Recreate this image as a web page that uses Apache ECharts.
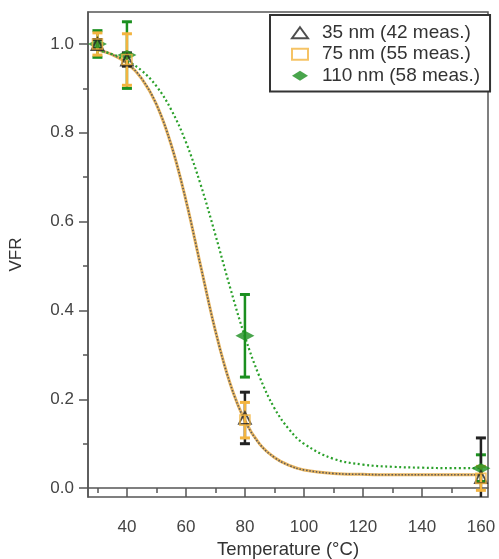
<!DOCTYPE html>
<html>
<head>
<meta charset="utf-8">
<script src="https://cdn.jsdelivr.net/npm/echarts@6/dist/echarts.min.js"></script>
<style>
  html, body { margin: 0; padding: 0; background: #fff; }
  #chart { width: 499px; height: 559px; }
</style>
</head>
<body>
<div id="chart"></div>
<script>
// Measured points: temperature (°C) and VFR with ± error
const temps = [30, 40, 80, 160];
const vfr35 = [1.0, 0.965, 0.158, 0.025];
const err35 = [0.01, 0.015, 0.058, 0.088];
const vfr75 = [1.0, 0.965, 0.153, 0.022];
const err75 = [0.025, 0.058, 0.04, 0.027];
const vfr110 = [1.0, 0.975, 0.343, 0.045];
const err110 = [0.03, 0.075, 0.093, 0.03];

// Fitted curves (sampled)
const fitTemps = [30, 35, 40, 45, 50, 55, 60, 65, 70, 75, 80, 85, 90, 95, 100, 110, 120, 130, 140, 150, 160];
const fitSmall = [0.987, 0.976, 0.957, 0.922, 0.864, 0.773, 0.648, 0.500, 0.354, 0.235, 0.152, 0.099, 0.069, 0.051, 0.041, 0.033, 0.031, 0.030, 0.030, 0.030, 0.030];
const fitLarge = [0.986, 0.977, 0.962, 0.940, 0.905, 0.852, 0.779, 0.683, 0.570, 0.451, 0.341, 0.250, 0.180, 0.132, 0.100, 0.066, 0.053, 0.048, 0.046, 0.045, 0.045];

// Tick positions
const xMajor = [40, 60, 80, 100, 120, 140, 160];
const xMinor = [30, 50, 70, 90, 110, 130, 150];
const yMajor = [0, 0.2, 0.4, 0.6, 0.8, 1.0];
const yMinor = [0.1, 0.3, 0.5, 0.7, 0.9];

const names = ['35 nm (42 meas.)', '75 nm (55 meas.)', '110 nm (58 meas.)'];

const BLACK = '#222222';
const ORANGE = '#f3b43f';
const GREEN = '#1b8f1f';
const AXIS = '#555555';
const FONT = '"Liberation Sans", Arial, sans-serif';

function errorBars(color, vals, errs, z) {
  return {
    type: 'custom',
    z: z,
    clip: true,
    silent: true,
    data: temps.map((t, i) => [t, vals[i] - errs[i], vals[i] + errs[i]]),
    encode: { x: 0, y: [1, 2] },
    renderItem(params, api) {
      const x = api.value(0);
      const lo = api.coord([x, api.value(1)]);
      const hi = api.coord([x, api.value(2)]);
      const cw = 5;
      return {
        type: 'group',
        children: [
          { type: 'line', shape: { x1: lo[0], y1: lo[1], x2: hi[0], y2: hi[1] }, style: { stroke: color, lineWidth: 2.5 } },
          { type: 'line', shape: { x1: hi[0] - cw, y1: hi[1], x2: hi[0] + cw, y2: hi[1] }, style: { stroke: color, lineWidth: 3 } },
          { type: 'line', shape: { x1: lo[0] - cw, y1: lo[1], x2: lo[0] + cw, y2: lo[1] }, style: { stroke: color, lineWidth: 3 } }
        ]
      };
    }
  };
}

const chart = echarts.init(document.getElementById('chart'), null, { renderer: 'canvas' });

const baseX = { type: 'value', min: 26.8, max: 162.4, splitLine: { show: false } };
const baseY = { type: 'value', min: -0.02, max: 1.072, splitLine: { show: false } };

chart.setOption({
  animation: false,
  backgroundColor: '#fff',
  textStyle: { fontFamily: FONT },
  grid: {
    left: 88, right: 11, top: 12, bottom: 62,
    outerBoundsMode: 'none',
    containLabel: false,
    show: true, borderColor: AXIS, borderWidth: 1.5, backgroundColor: 'transparent'
  },
  legend: {
    data: names,
    orient: 'vertical',
    left: 270,
    top: 15,
    padding: [7, 10, 5, 21],
    itemGap: 0,
    itemWidth: 16,
    itemHeight: 11,
    borderColor: '#333',
    borderWidth: 2,
    backgroundColor: '#fff',
    textStyle: { fontFamily: FONT, fontSize: 19, lineHeight: 21.5, color: '#333', padding: [0, 0, 0, 9] }
  },
  xAxis: [
    Object.assign({}, baseX, {
      name: 'Temperature (°C)',
      nameLocation: 'middle',
      nameGap: 43,
      nameTextStyle: { fontFamily: FONT, fontSize: 18.5, color: '#333' },
      axisLine: { show: true, lineStyle: { color: AXIS, width: 1.5 } },
      axisTick: { show: true, customValues: xMajor, length: 9, lineStyle: { color: AXIS, width: 1.5 } },
      axisLabel: { customValues: xMajor, margin: 22, fontFamily: FONT, fontSize: 17, color: '#444' }
    }),
    Object.assign({}, baseX, {
      position: 'bottom',
      axisLine: { show: false },
      axisTick: { show: true, customValues: xMinor, length: 5, lineStyle: { color: AXIS, width: 1.5 } },
      axisLabel: { show: false }
    })
  ],
  yAxis: [
    Object.assign({}, baseY, {
      name: 'VFR',
      nameLocation: 'middle',
      nameGap: 63,
      nameRotate: 90,
      nameTextStyle: { fontFamily: FONT, fontSize: 17, color: '#333' },
      axisLine: { show: true, lineStyle: { color: AXIS, width: 1.5 } },
      axisTick: { show: true, customValues: yMajor, length: 9, lineStyle: { color: AXIS, width: 1.5 } },
      axisLabel: { customValues: yMajor, margin: 14, fontFamily: FONT, fontSize: 17, color: '#444', formatter: v => v.toFixed(1) }
    }),
    Object.assign({}, baseY, {
      position: 'left',
      axisLine: { show: false },
      axisTick: { show: true, customValues: yMinor, length: 5, lineStyle: { color: AXIS, width: 1.5 } },
      axisLabel: { show: false }
    })
  ],
  series: [
    // fit for 35 / 75 nm: orange line with a dark dotted overlay
    {
      type: 'line', name: 'fitSmallBase', smooth: 0.4, showSymbol: false, silent: true, z: 1,
      data: fitTemps.map((t, i) => [t, fitSmall[i]]),
      lineStyle: { color: '#e8b560', width: 3 }
    },
    {
      type: 'line', name: 'fitSmallDots', smooth: 0.4, showSymbol: false, silent: true, z: 2,
      data: fitTemps.map((t, i) => [t, fitSmall[i]]),
      lineStyle: { color: '#5a5a5a', width: 1.6, type: [1.5, 1.8] }
    },
    // fit for 110 nm
    {
      type: 'line', name: 'fitLarge', smooth: 0.4, showSymbol: false, silent: true, z: 2,
      data: fitTemps.map((t, i) => [t, fitLarge[i]]),
      lineStyle: { color: '#2aa02a', width: 2.2, type: [2, 2.6] }
    },
    errorBars(GREEN, vfr110, err110, 3),
    errorBars(BLACK, vfr35, err35, 4),
    errorBars(ORANGE, vfr75, err75, 5),
    {
      type: 'scatter', name: names[2], z: 6,
      symbol: 'path://M0,5 L8,0 L16,5 L8,10 Z', symbolSize: [19, 10],
      itemStyle: { color: GREEN },
      data: temps.map((t, i) => [t, vfr110[i]])
    },
    {
      type: 'scatter', name: names[0], z: 7,
      symbol: 'triangle', symbolSize: 12,
      itemStyle: { color: 'rgba(255,255,255,0)', borderColor: BLACK, borderWidth: 1.8 },
      data: temps.map((t, i) => [t, vfr35[i]])
    },
    {
      type: 'scatter', name: names[1], z: 8,
      symbol: 'rect', symbolSize: 10,
      itemStyle: { color: 'rgba(255,255,255,0)', borderColor: ORANGE, borderWidth: 1.6 },
      data: temps.map((t, i) => [t, vfr75[i]])
    }
  ]
});
</script>
</body>
</html>
